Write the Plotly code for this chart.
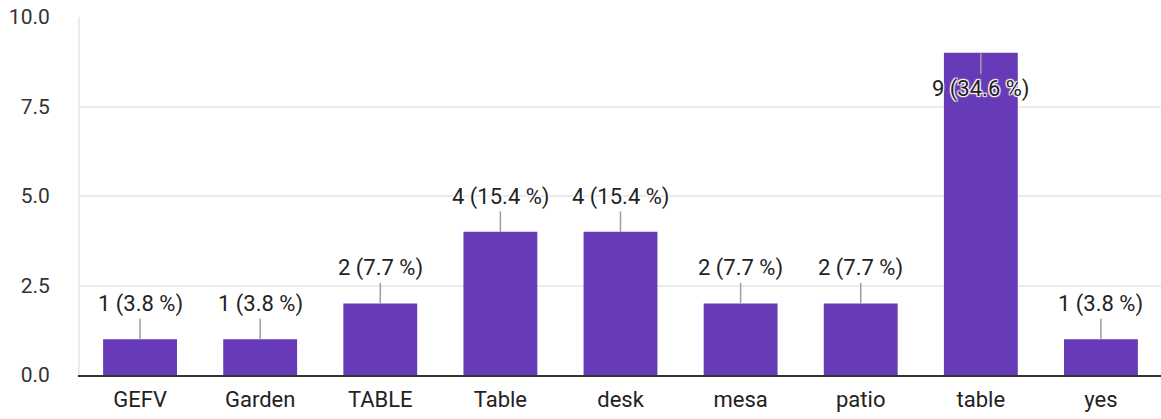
import plotly.graph_objects as go

categories = ["GEFV", "Garden", "TABLE", "Table", "desk", "mesa", "patio", "table", "yes"]
counts = [1, 1, 2, 4, 4, 2, 2, 9, 1]
y_ticks = [0, 2.5, 5, 7.5, 10]

total = sum(counts)
labels = [f"{c} ({c / total * 100:.1f} %)" for c in counts]

BAR = "#673ab7"
FONT = "Roboto"
halo = "1px 1px 1px #fff, -1px -1px 1px #fff, 1px -1px 1px #fff, -1px 1px 1px #fff, 0 0 2px #fff"

fig = go.Figure()
fig.add_trace(go.Bar(
    x=categories, y=counts, marker=dict(color=BAR, line=dict(width=0)),
    hoverinfo="skip",
))

for cat, c, lab in zip(categories, counts, labels):
    below = c > 8.5
    fig.add_annotation(
        x=cat, y=c, text=lab, showarrow=True, arrowhead=0, arrowwidth=1.5,
        arrowcolor="#9e9e9e", ax=0, ay=36 if below else -35, standoff=0,
        font=dict(family=FONT, size=22, color="#222222", shadow=halo),
    )

fig.update_layout(
    width=1161, height=419,
    margin=dict(l=80, r=0, t=17, b=44, autoexpand=False),
    paper_bgcolor="white", plot_bgcolor="white",
    bargap=0.385, showlegend=False,
    font=dict(family=FONT, size=22, color="#333333"),
)
fig.update_xaxes(
    showline=True, linecolor="#333333", linewidth=2, showgrid=False,
    ticks="", ticklabelstandoff=4, automargin=False,
    tickfont=dict(size=22, color="#222222"),
)
fig.update_yaxes(
    range=[0, 10], tickvals=y_ticks, tickformat=".1f", showgrid=True,
    gridcolor="#ececec", gridwidth=2, zeroline=False, showline=True,
    linecolor="#ececec", linewidth=2, ticks="", ticklabelstandoff=24,
    ticklabeloverflow="allow",
    automargin=False, tickfont=dict(size=21, color="#333333"),
)

fig.write_html(
    "out.html",
    config={"displayModeBar": False},
    post_script="document.body.style.margin='0';document.body.style.overflow='hidden';",
)
